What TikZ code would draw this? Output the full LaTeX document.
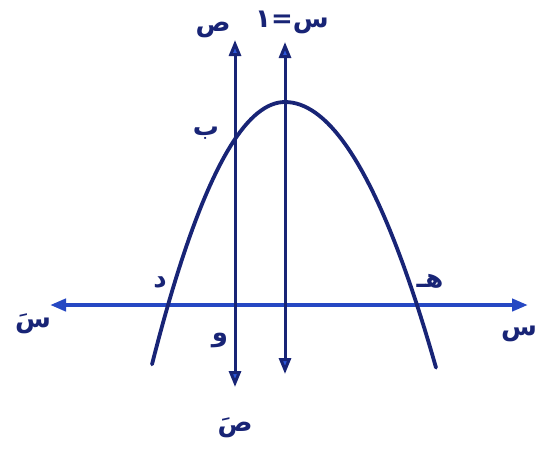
\documentclass[tikz,border=0pt]{standalone}
\usepackage{fontspec}
\newfontfamily\arabicfont[Script=Arabic, BoldFont={DejaVu Sans Bold}]{DejaVu Sans}
\TeXXeTstate=1
\usetikzlibrary{arrows.meta, positioning}
\definecolor{inkblue}{RGB}{24,36,118}
\definecolor{tipblue}{RGB}{45,88,220}
\definecolor{axisblue}{RGB}{38,72,195}

\begin{document}
\begin{tikzpicture}[x=1pt, y=-1pt,
    lbl/.style={font=\arabicfont\bfseries\fontsize{26}{28}\selectfont, text=inkblue, inner sep=0pt},
    tips/.style={{Triangle[length=16pt,width=12pt,fill=tipblue]}-{Triangle[length=16pt,width=12pt,fill=tipblue]}}]
    \fill[white] (0,0) rectangle (537,459);
    \useasboundingbox (0,0) rectangle (537,459);
    % ends of the axes
    \coordinate (xl) at (50,305);
    \coordinate (xr) at (528,305);
    \coordinate (yt) at (235,40);
    \coordinate (yb) at (235,387);
    \coordinate (kt) at (285,42);
    \coordinate (kb) at (285,374);
    \draw[tips, axisblue, line width=4.4pt] (xl) -- (xr);
    \draw[tips, inkblue, line width=3pt] (yb) -- (yt);
    \draw[tips, inkblue, line width=3pt] (kb) -- (kt);
    % the curve
    \draw[inkblue, line width=3.8pt, line cap=round]
        plot[domain=-133:0, samples=40] ({285+\x},{102+1.483*(\x/10)*(\x/10)})
        -- plot[domain=0:151, samples=40] ({285+\x},{102+1.165*(\x/10)*(\x/10)});
    \node[lbl] (ylab) at (213,30) {\beginR ص\endR};
    \node[lbl] (klab) at (292,22) {\beginR س=١\endR};
    \node[lbl] (blab) at (206,133) {\beginR ب\endR};
    \node[lbl] (dlab) at (160,282) {\beginR د\endR};
    \node[lbl] (hlab) at (430,281) {\beginR هـ\endR};
    \node[lbl] (olab) at (220,340) {\beginR و\endR};
    \node[lbl] (xnlab) at (33,324) {\beginR سَ\endR};
    \node[lbl] (ynlab) at (235,428) {\beginR صَ\endR};
    \node[lbl] (xlab) at (519,334) {\beginR س\endR};
\end{tikzpicture}
\end{document}
